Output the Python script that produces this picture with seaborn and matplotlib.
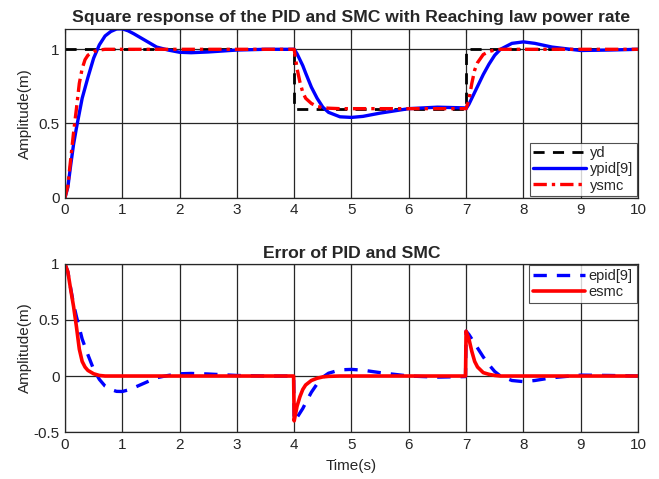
import numpy as np
import pandas as pd
import seaborn as sns
import matplotlib.pyplot as plt

sns.set_style("white")
plt.rcParams['font.family'] = ['Liberation Sans', 'DejaVu Sans']

# reference signal (square wave)
t_yd = [0, 4, 4, 7, 7, 10]
yd = [1, 1, 0.6, 0.6, 1, 1]

# shared time grid for the responses / errors
t = [0, 0.05, 0.1, 0.15, 0.2, 0.25, 0.3, 0.35, 0.4, 0.5, 0.6, 0.7, 0.8, 0.9, 1.0,
     1.1, 1.2, 1.4, 1.6, 1.8, 2.0, 2.2, 2.5, 3.0, 3.5, 3.99,
     4.0, 4.05, 4.1, 4.15, 4.2, 4.3, 4.4, 4.5, 4.6, 4.8, 5.0, 5.2, 5.5, 6.0, 6.5, 6.99,
     7.0, 7.05, 7.1, 7.15, 7.2, 7.3, 7.4, 7.5, 7.6, 7.8, 8.0, 8.2, 8.5, 9.0, 9.5, 10]

ypid = [0, 0.07, 0.22, 0.36, 0.47, 0.57, 0.67, 0.74, 0.81, 0.94, 1.03, 1.09, 1.12, 1.137, 1.138,
        1.125, 1.105, 1.06, 1.015, 0.995, 0.98, 0.977, 0.982, 0.995, 1.0, 1.0,
        1.0, 0.97, 0.93, 0.89, 0.84, 0.745, 0.67, 0.61, 0.575, 0.545, 0.541, 0.548, 0.57, 0.6, 0.61, 0.605,
        0.6, 0.63, 0.67, 0.71, 0.75, 0.83, 0.9, 0.96, 1.0, 1.04, 1.05, 1.04, 1.015, 0.992, 0.995, 1.0]

ysmc = [0, 0.08, 0.26, 0.44, 0.6, 0.77, 0.87, 0.93, 0.96, 0.985, 0.995, 1.0, 1.0, 1.0, 1.0,
        1.0, 1.0, 1.0, 1.0, 1.0, 1.0, 1.0, 1.0, 1.0, 1.0, 1.0,
        1.0, 0.87, 0.78, 0.71, 0.67, 0.635, 0.615, 0.607, 0.603, 0.6, 0.6, 0.6, 0.6, 0.6, 0.6, 0.6,
        0.6, 0.66, 0.77, 0.86, 0.91, 0.965, 0.985, 0.995, 1.0, 1.0, 1.0, 1.0, 1.0, 1.0, 1.0, 1.0]

epid = [1, 0.93, 0.78, 0.64, 0.53, 0.43, 0.33, 0.26, 0.19, 0.06, -0.03, -0.09, -0.12, -0.137, -0.138,
        -0.125, -0.105, -0.06, -0.015, 0.005, 0.02, 0.023, 0.018, 0.005, 0, 0,
        -0.4, -0.37, -0.33, -0.29, -0.24, -0.145, -0.07, -0.01, 0.025, 0.055, 0.059, 0.052, 0.03, 0.0, -0.01, -0.005,
        0.4, 0.37, 0.33, 0.29, 0.25, 0.17, 0.1, 0.04, 0.0, -0.04, -0.05, -0.04, -0.015, 0.008, 0.005, 0]

esmc = [1, 0.93, 0.77, 0.62, 0.44, 0.24, 0.13, 0.08, 0.05, 0.02, 0.005, 0, 0, 0, 0,
        0, 0, 0, 0, 0, 0, 0, 0, 0, 0, 0,
        -0.4, -0.27, -0.185, -0.12, -0.08, -0.04, -0.02, -0.008, -0.003, 0, 0, 0, 0, 0, 0, 0,
        0.4, 0.33, 0.22, 0.13, 0.08, 0.03, 0.015, 0.005, 0, 0, 0, 0, 0, 0, 0, 0]

df = pd.DataFrame({'t': t, 'ypid': ypid, 'ysmc': ysmc, 'epid': epid, 'esmc': esmc})
dfd = pd.DataFrame({'t': t_yd, 'yd': yd})

fig = plt.figure(figsize=(6.59, 4.79), dpi=100)
ax1 = fig.add_axes([0.0986, 0.5873, 0.8695, 0.3516])
ax2 = fig.add_axes([0.0986, 0.098, 0.8695, 0.351])

sns.lineplot(data=dfd, x='t', y='yd', ax=ax1, color='black', lw=2.0, ls=(0, (4, 3)),
             estimator=None, sort=False, label='yd')
sns.lineplot(data=df, x='t', y='ypid', ax=ax1, color='#0000ff', lw=2.4,
             estimator=None, sort=False, label='ypid[9]')
sns.lineplot(data=df, x='t', y='ysmc', ax=ax1, color='#ff0000', lw=2.4, ls=(0, (4, 1.5, 1, 1.5)),
             estimator=None, sort=False, label='ysmc')

sns.lineplot(data=df, x='t', y='epid', ax=ax2, color='#0000ff', lw=2.4, ls=(0, (4, 3)),
             estimator=None, sort=False, label='epid[9]')
sns.lineplot(data=df, x='t', y='esmc', ax=ax2, color='#ff0000', lw=2.6,
             estimator=None, sort=False, label='esmc')

ax1.set_ylim(0, 1.135)
ax1.set_yticks([0, 0.5, 1])
ax1.set_yticklabels(['0', '0.5', '1'])
ax2.set_ylim(-0.5, 1)
ax2.set_yticks([-0.5, 0, 0.5, 1])
ax2.set_yticklabels(['-0.5', '0', '0.5', '1'])

for ax in (ax1, ax2):
    ax.set_xlim(0, 10)
    ax.set_xticks(range(11))
    ax.grid(True, color='#262626', lw=0.9)
    ax.set_axisbelow(True)
    ax.tick_params(direction='in', length=3, labelsize=11, colors='#262626', labelcolor='#262626',
                   top=True, right=True, pad=4)
    for s in ax.spines.values():
        s.set_color('#262626')
        s.set_linewidth(0.9)
    ax.set_ylabel('Amplitude(m)', fontsize=11, color='#262626')
    ax.yaxis.set_label_coords(-0.057, 0.5)
    ax.set_xlabel('')

ax1.set_title('Square response of the PID and SMC with Reaching law power rate',
              fontsize=12.6, fontweight='bold', pad=5)
ax2.set_title('Error of PID and SMC', fontsize=12.6, fontweight='bold', pad=4)
ax2.set_xlabel('Time(s)', fontsize=11, color='#262626', labelpad=5)

leg1 = ax1.legend(loc='lower right', fontsize=10.5, frameon=True, fancybox=False,
                  edgecolor='#262626', borderaxespad=0.1, handlelength=3.6,
                  borderpad=0.25, labelspacing=0.15, handletextpad=0.25)
leg1.get_frame().set_linewidth(0.8)
leg2 = ax2.legend(loc='upper right', fontsize=10.5, frameon=True, fancybox=False,
                  edgecolor='#262626', borderaxespad=0.1, handlelength=3.6,
                  borderpad=0.25, labelspacing=0.15, handletextpad=0.25)
leg2.get_frame().set_linewidth(0.8)

fig.savefig('out.png', dpi=100)
